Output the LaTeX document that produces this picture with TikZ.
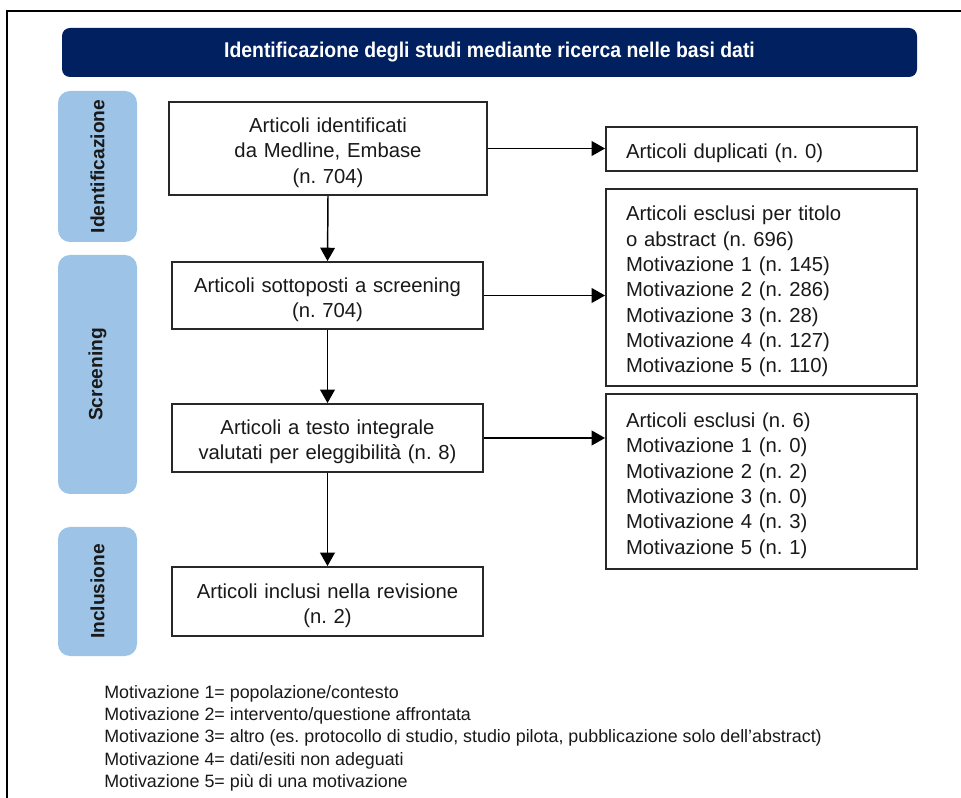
\documentclass[tikz,border=0pt]{standalone}
\usepackage{fontspec}
\setmainfont{Liberation Sans}
\usetikzlibrary{arrows.meta}
\definecolor{navy}{RGB}{0,32,96}
\definecolor{phase}{RGB}{157,195,230}
\definecolor{ink}{RGB}{25,25,25}
\definecolor{boxline}{RGB}{40,40,40}
\frenchspacing
\tikzset{
  box/.style={draw=boxline, line width=1.4pt, fill=white, text=ink, inner sep=0pt,
    font=\fontsize{15.2pt}{19pt}\selectfont, align=center,
    execute at begin node={\rule{0pt}{17pt}}},
  mainbox/.style={box, text width=233.25pt},
  sidebox/.style={box, align=left, text width=203.25pt, inner xsep=15pt, inner ysep=0pt},
  phasebox/.style={fill=phase, rounded corners=9pt, minimum width=59.25pt, inner sep=0pt,
    font=\fontsize{14.4pt}{17pt}\selectfont\bfseries, text=ink},
  flow/.style={draw=black, line width=1.1pt, -{Triangle[length=10pt, width=11pt]}},
  foot/.style={anchor=base west, inner sep=0pt, text=ink, font=\fontsize{13.4pt}{16.7pt}\selectfont}
}
\begin{document}
\frenchspacing
\begin{tikzpicture}[x=0.75pt, y=-0.75pt]
\useasboundingbox (0,0) rectangle (961,798);
\fill[white] (0,0) rectangle (961,798);
\draw[line width=2.2pt, line cap=rect] (961,11) -- (7,11) -- (7,800);

% header
\node[fill=navy, rounded corners=6pt, minimum width=641.25pt, minimum height=36.75pt, inner sep=0pt,
  text=white, font=\fontsize{16pt}{18pt}\selectfont\bfseries] (head) at (489.5,52.5)
  {\scalebox{0.91}[1]{Identificazione degli studi mediante ricerca nelle basi dati}};

% phase labels
\node[phasebox, minimum height=113.25pt] (pid) at (97.5,166.5) {\rotatebox{90}{Identificazione}};
\node[phasebox, minimum height=179.25pt] (pscr) at (97.5,374.5) {\rotatebox{90}{Screening}};
\node[phasebox, minimum height=96.75pt] (pinc) at (97.5,591.5) {\rotatebox{90}{Inclusione}};

% main boxes
\node[box, text width=238.5pt, minimum height=69.75pt] (b1) at (328,148.5)
  {Articoli identificati\\da Medline, Embase\\(n. 704)};
\node[mainbox, minimum height=50.25pt] (b2) at (327.5,295.5)
  {Articoli sottoposti a screening\\(n. 704)};
\node[mainbox, minimum height=51pt] (b3) at (327.5,438)
  {Articoli a testo integrale\\valutati per eleggibilità (n. 8)};
\node[mainbox, minimum height=51.75pt] (b4) at (327.5,601.5)
  {Articoli inclusi nella revisione\\(n. 2)};

% side boxes
\node[sidebox, minimum height=33pt] (d1) at (761.5,149) {Articoli duplicati (n. 0)};
\node[sidebox, minimum height=147.75pt] (e1) at (761.5,287.5)
  {Articoli esclusi per titolo\\o abstract (n. 696)\\Motivazione 1 (n. 145)\\Motivazione 2 (n. 286)\\Motivazione 3 (n. 28)\\Motivazione 4 (n. 127)\\Motivazione 5 (n. 110)};
\node[sidebox, minimum height=131.25pt] (e2) at (761.5,481.5)
  {Articoli esclusi (n. 6)\\Motivazione 1 (n. 0)\\Motivazione 2 (n. 2)\\Motivazione 3 (n. 0)\\Motivazione 4 (n. 3)\\Motivazione 5 (n. 1)};

% connectors
\draw[flow] (b1.south) -- (b2.north);
\draw[flow] (b2.south) -- (b3.north);
\draw[flow] (b3.south) -- (b4.north);
\draw[flow] (b1.east) -- (b1.east -| d1.west);
\draw[flow] (b2.east) -- (b2.east -| e1.west);
\draw[flow] (b3.east) -- (b3.east -| e2.west);

% footnote
\node[foot] (f1) at (104,698.5) {Motivazione 1= popolazione/contesto};
\node[foot] (f2) at (104,720.7) {Motivazione 2= intervento/questione affrontata};
\node[foot] (f3) at (104,742.9) {Motivazione 3= altro (es. protocollo di studio, studio pilota, pubblicazione solo dell’abstract)};
\node[foot] (f4) at (104,765.1) {Motivazione 4= dati/esiti non adeguati};
\node[foot] (f5) at (104,787.3) {Motivazione 5= più di una motivazione};
\end{tikzpicture}
\end{document}
